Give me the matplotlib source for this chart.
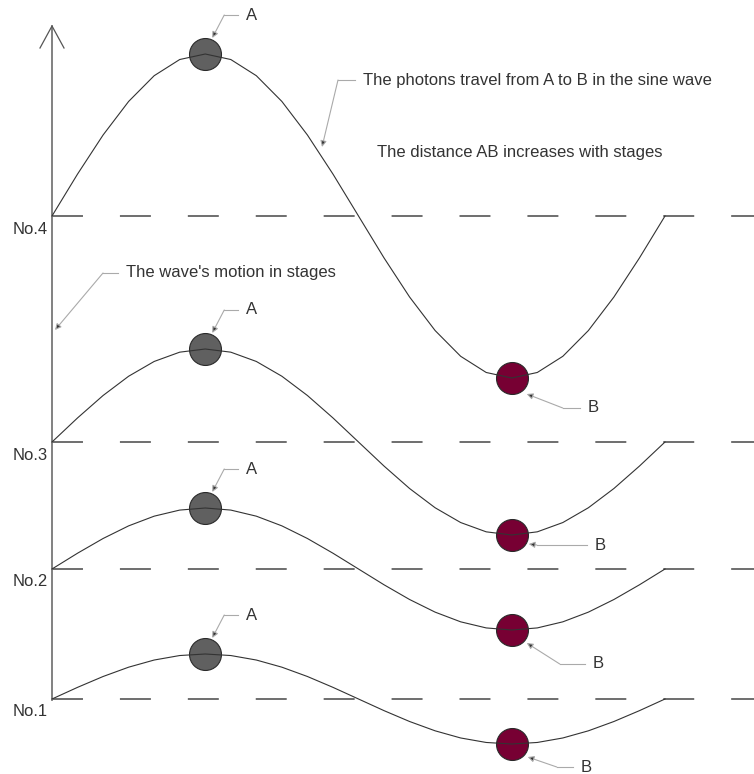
import numpy as np
import matplotlib
matplotlib.use("Agg")
import matplotlib.pyplot as plt

plt.rcParams['font.family'] = ['Liberation Sans', 'DejaVu Sans']
plt.rcParams['lines.scale_dashes'] = False

# stages, bottom to top
STAGES = ["No.1", "No.2", "No.3", "No.4"]
LEVELS = [699, 569, 442, 216]        # baseline of each stage (px from top)
AMPS = [45, 61, 93, 162]             # wave amplitude of each stage (px)

X0 = 52        # wave start
PERIOD = 613   # one full period
NPTS = 25      # the wave is a polyline

TXT = "#333333"
LEAD = "#aaaaaa"
FS = 12

fig = plt.figure(figsize=(7.54, 7.74), dpi=100)
ax = fig.add_axes([0, 0, 1, 1])
ax.set_xlim(0, 754)
ax.set_ylim(774, 0)
ax.axis("off")


def leader(tip, elbow, end, label):
  # short horizontal line, then diagonal to the arrow tip
  ax.plot([end[0], elbow[0]], [end[1], elbow[1]], color=LEAD, lw=0.8)
  ax.annotate("", xy=tip, xytext=elbow,
              arrowprops=dict(arrowstyle="-|>", ec=LEAD, fc="#333333", lw=0.8,
                              shrinkA=0, shrinkB=0, mutation_scale=9))
  ax.text(end[0] + 8, end[1], label, color=TXT, fontsize=FS,
          ha="left", va="center")


# dashed baselines
for lev in LEVELS:
  ax.plot([X0, 754], [lev, lev], color="#555555", lw=1.2,
          dashes=(22.3, 26.6))

# vertical axis with open arrow head
ax.plot([X0, X0], [LEVELS[0] + 1, 26], color="#777777", lw=1.3)
ax.plot([40, X0, 64], [48, 26, 48], color="#555555", lw=0.9)

# waves and photons
for name, lev, amp in zip(STAGES, LEVELS, AMPS):
  t = np.linspace(0, 1, NPTS)
  xs = X0 + PERIOD * t
  ys = lev - amp * np.sin(2 * np.pi * t)
  ax.plot(xs, ys, color="#333333", lw=0.8, zorder=3)
  ax.plot(X0 + PERIOD * 0.25, lev - amp, "o", ms=23, mfc="#606060",
          mec="#2a2a2a", mew=0.8, zorder=2)
  ax.plot(X0 + PERIOD * 0.75, lev + amp, "o", ms=23, mfc="#770033",
          mec="#2a2a2a", mew=0.8, zorder=2)
  ax.text(48, lev + 13, name, color=TXT, fontsize=FS, ha="right",
          va="center")

# A labels
for lev, amp in zip(LEVELS, AMPS):
  ax_, ay = X0 + PERIOD * 0.25, lev - amp
  leader((ax_ + 7, ay - 16), (ax_ + 19, ay - 39), (ax_ + 33, ay - 39), "A")

# B labels
bx = X0 + PERIOD * 0.75
lows = [lev + amp for lev, amp in zip(LEVELS, AMPS)]
leader((bx + 15, lows[3] + 16), (bx + 51, lows[3] + 30),
       (bx + 68, lows[3] + 30), "B")
leader((bx + 17, lows[2] + 9), (bx + 25, lows[2] + 10),
       (bx + 75, lows[2] + 10), "B")
leader((bx + 15, lows[1] + 13), (bx + 48, lows[1] + 34),
       (bx + 73, lows[1] + 34), "B")
leader((bx + 16, lows[0] + 13), (bx + 45, lows[0] + 23),
       (bx + 61, lows[0] + 23), "B")

# notes
leader((322, 147), (338, 80), (355, 80),
       "The photons travel from A to B in the sine wave")
ax.text(377, 152, "The distance AB increases with stages", color=TXT,
        fontsize=FS, ha="left", va="center")
leader((55, 330), (103, 273), (118, 273), "The wave's motion in stages")

fig.savefig("out.png", dpi=100, facecolor="white")
